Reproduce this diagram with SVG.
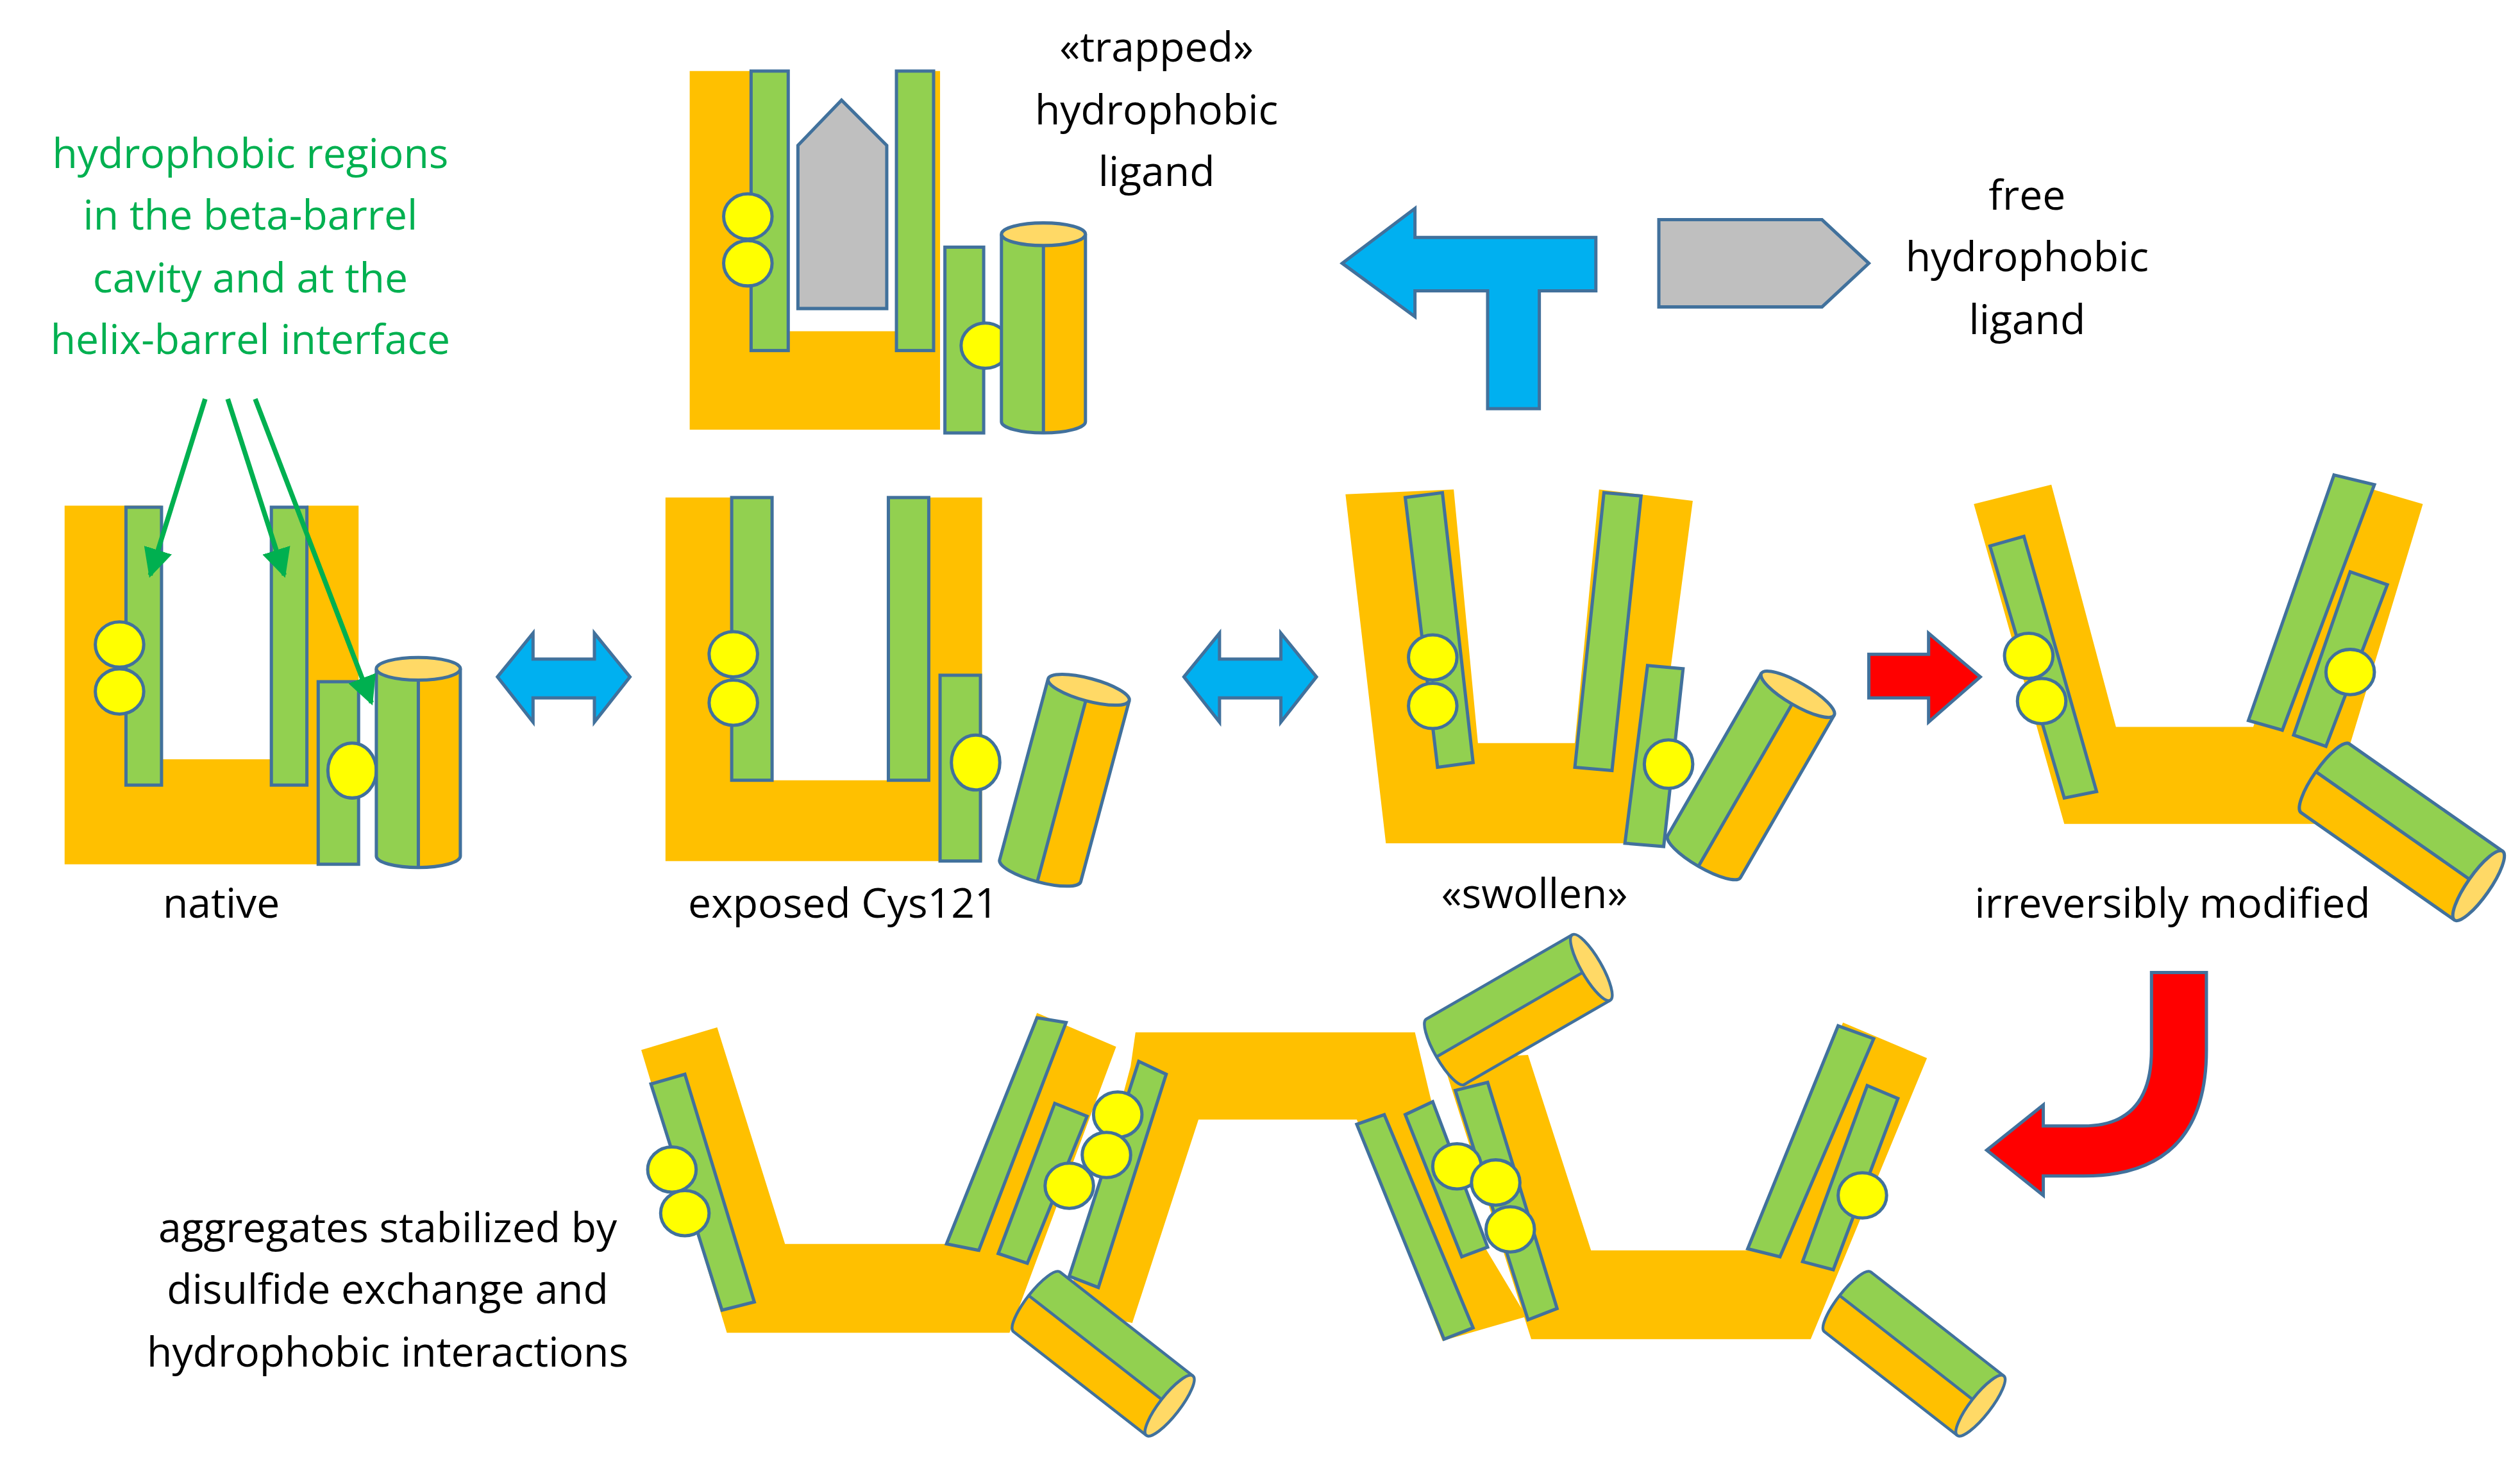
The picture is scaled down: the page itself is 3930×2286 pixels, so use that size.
<svg xmlns="http://www.w3.org/2000/svg" xmlns:xlink="http://www.w3.org/1999/xlink" width="3930" height="2286" viewBox="0 0 3930 2286">
<style>
.o{fill:#FFC000}
.g{fill:#92D050;stroke:#41719C;stroke-width:2}
.y{fill:#FFFF00;stroke:#41719C;stroke-width:2}
.t{font-family:"Open Sans","Liberation Sans",sans-serif;font-size:25.5px;fill:#000;text-anchor:middle}
.tg{fill:#00B050}
.ar{stroke:#41719C;stroke-width:2}
</style>
<defs>
<g id="cyl">
<path d="M-26,-58 V58 A26,7 0 0 0 0,65 V-58 Z" fill="#92D050"/>
<path d="M0,-58 V65 A26,7 0 0 0 26,58 V-58 Z" fill="#FFC000"/>
<path d="M-26,-58 V58 A26,7 0 0 0 26,58 V-58" fill="none" stroke="#41719C" stroke-width="2"/>
<line x1="0" y1="-58" x2="0" y2="65" stroke="#41719C" stroke-width="2"/>
<ellipse cx="0" cy="-58" rx="26" ry="7" fill="#FFD966" stroke="#41719C" stroke-width="2"/>
</g>
<marker id="ga" viewBox="0 0 10 10" refX="9" refY="5" markerWidth="6" markerHeight="6" orient="auto"><path d="M0,0 L10,5 L0,10 Z" fill="#00B050"/></marker>
</defs>
<rect width="3930" height="2286" fill="#fff"/>
<g transform="scale(2.519)">
<g id="native">
<path class="o" d="M40,313 H100 V470 H190 V313 H222 V535 H40 Z"/>
<rect class="g" x="78" y="314" width="22" height="172"/>
<rect class="g" x="168" y="314" width="22" height="172"/>
<rect class="g" x="197" y="422" width="25" height="113"/>
<ellipse class="y" cx="74" cy="399" rx="15" ry="14"/>
<ellipse class="y" cx="74" cy="428" rx="15" ry="14"/>
<ellipse class="y" cx="218" cy="477" rx="15" ry="17"/>
<use xlink:href="#cyl" transform="translate(259,472)"/>
</g>
<g id="exposed">
<path class="o" d="M412,308 H453 V483 H550 V308 H608 V533 H412 Z"/>
<rect class="g" x="453" y="308" width="25" height="175"/>
<rect class="g" x="550" y="308" width="25" height="175"/>
<rect class="g" x="582" y="418" width="25" height="115"/>
<ellipse class="y" cx="454" cy="405" rx="15" ry="14"/>
<ellipse class="y" cx="454" cy="435" rx="15" ry="14"/>
<ellipse class="y" cx="604" cy="472" rx="15" ry="17"/>
<use xlink:href="#cyl" transform="translate(659,483) rotate(15)"/>
</g>
<g id="swollen">
<path class="o" d="M833,306 L900,303 L915,460 L975,460 L990,303 L1048,310 L1020,522 L858,522 Z"/>
<polygon class="g" points="870,308 893,305 912,472 890,475"/>
<polygon class="g" points="993,305 1016,307 998,477 975,475"/>
<polygon class="g" points="1020,412 1042,414 1030,524 1006,522"/>
<ellipse class="y" cx="887" cy="407" rx="15" ry="14"/>
<ellipse class="y" cx="887" cy="437" rx="15" ry="14"/>
<ellipse class="y" cx="1033" cy="473" rx="15" ry="15"/>
<use xlink:href="#cyl" transform="translate(1084,480) rotate(30)"/>
</g>
<g id="modified">
<path class="o" d="M1222,312 L1270,300 L1310,450 L1395,450 L1445,296 L1500,312 L1440,510 L1278,510 Z"/>
<polygon class="g" points="1232,338 1253,332 1298,490 1278,494"/>
<polygon class="g" points="1445,294 1470,300 1413,452 1392,446"/>
<polygon class="g" points="1455,354 1478,362 1440,462 1420,455"/>
<ellipse class="y" cx="1256" cy="406" rx="15" ry="14"/>
<ellipse class="y" cx="1264" cy="434" rx="15" ry="14"/>
<ellipse class="y" cx="1455" cy="416" rx="15" ry="14"/>
<use xlink:href="#cyl" transform="translate(1487,515) rotate(125)"/>
</g>
<g id="trapped">
<path class="o" d="M427,44 H465 V205 H555 V44 H582 V266 H427 Z"/>
<rect class="g" x="465" y="44" width="23" height="173"/>
<rect class="g" x="555" y="44" width="23" height="173"/>
<rect class="g" x="585" y="153" width="24" height="115"/>
<polygon points="494,90 521,62 549,90 549,191 494,191" fill="#BFBFBF" stroke="#41719C" stroke-width="2"/>
<ellipse class="y" cx="463" cy="134" rx="15" ry="14"/>
<ellipse class="y" cx="463" cy="163" rx="15" ry="14"/>
<ellipse class="y" cx="610" cy="214" rx="15" ry="14"/>
<use xlink:href="#cyl" transform="translate(646,203)"/>
</g>
<g id="free-ligand">
<polygon points="1027,136 1128,136 1157,163 1128,190 1027,190" fill="#BFBFBF" stroke="#41719C" stroke-width="2"/>
</g>
<g id="aggregate">
<path class="o" d="M397,650 L444,636 L486,770 L590,770 L642,627 L691,648 L625,825 L450,825 Z"/>
<path class="o" d="M703,639 L876,639 L900,740 L945,815 L893,830 L840,693 L742,693 L701,819 L660,810 L700,660 Z"/>
<path class="o" d="M893,656 L946,653 L985,774 L1082,774 L1141,633 L1193,655 L1121,829 L948,829 Z"/>
<polygon class="g" points="403,671 424,665 467,806 447,811"/>
<polygon class="g" points="642,630 660,633 606,774 586,770"/>
<polygon class="g" points="653,683 673,691 636,782 618,776"/>
<polygon class="g" points="705,657 722,665 680,797 662,790"/>
<polygon class="g" points="840,696 857,690 912,822 894,829"/>
<polygon class="g" points="870,690 887,682 921,772 905,778"/>
<polygon class="g" points="901,675 921,670 964,810 946,817"/>
<polygon class="g" points="1138,635 1160,643 1102,778 1082,773"/>
<polygon class="g" points="1156,672 1175,680 1135,786 1116,781"/>
<ellipse class="y" cx="416" cy="724" rx="15" ry="14"/>
<ellipse class="y" cx="424" cy="751" rx="15" ry="14"/>
<ellipse class="y" cx="692" cy="690" rx="15" ry="14"/>
<ellipse class="y" cx="685" cy="715" rx="15" ry="14"/>
<ellipse class="y" cx="662" cy="734" rx="15" ry="14"/>
<ellipse class="y" cx="902" cy="722" rx="15" ry="14"/>
<ellipse class="y" cx="926" cy="732" rx="15" ry="14"/>
<ellipse class="y" cx="935" cy="761" rx="15" ry="14"/>
<ellipse class="y" cx="1153" cy="740" rx="15" ry="14"/>
<use xlink:href="#cyl" transform="translate(940,625) rotate(60) scale(0.9)"/>
<use xlink:href="#cyl" transform="translate(683,838) rotate(128) scale(0.9)"/>
<use xlink:href="#cyl" transform="translate(1185,838) rotate(128) scale(0.9)"/>
</g>
<g id="connectors">
<polygon class="ar" fill="#00B0F0" points="308,419 330,392 330,408 368,408 368,392 390,419 368,447 368,432 330,432 330,447"/>
<polygon class="ar" fill="#00B0F0" points="733,419 755,392 755,408 793,408 793,392 815,419 793,447 793,432 755,432 755,447"/>
<polygon class="ar" fill="#FF0000" points="1157,405 1194,405 1194,392 1226,419 1194,447 1194,432 1157,432"/>
<path class="ar" fill="#FF0000" d="M1332,602 H1366 V650 Q1366,728 1290,728 H1265 V740 L1230,712 L1265,684 V697 H1290 Q1332,697 1332,650 Z"/>
<polygon class="ar" fill="#00B0F0" points="831,163 876,129 876,147 988,147 988,180 953,180 953,253 921,253 921,180 876,180 876,196"/>
<g stroke="#00B050" stroke-width="3" fill="none" marker-end="url(#ga)">
<line x1="127" y1="247" x2="93" y2="356"/>
<line x1="141" y1="247" x2="176" y2="356"/>
<line x1="158" y1="247" x2="230" y2="435"/>
</g>
</g>
<g id="labels">
<text class="t tg" x="155" y="104">hydrophobic regions</text>
<text class="t tg" x="155" y="142">in the beta-barrel</text>
<text class="t tg" x="155" y="181">cavity and at the</text>
<text class="t tg" x="155" y="219">helix-barrel interface</text>
<text class="t" x="137" y="568">native</text>
<text class="t" x="522" y="568">exposed Cys121</text>
<text class="t" x="950" y="562">«swollen»</text>
<text class="t" x="1345" y="568">irreversibly modified</text>
<text class="t" x="716" y="38">«trapped»</text>
<text class="t" x="716" y="77">hydrophobic</text>
<text class="t" x="716" y="115">ligand</text>
<text class="t" x="1255" y="130">free</text>
<text class="t" x="1255" y="168">hydrophobic</text>
<text class="t" x="1255" y="207">ligand</text>
<text class="t" x="240" y="769">aggregates stabilized by</text>
<text class="t" x="240" y="807">disulfide exchange and</text>
<text class="t" x="240" y="846">hydrophobic interactions</text>
</g>
</g>
</svg>
